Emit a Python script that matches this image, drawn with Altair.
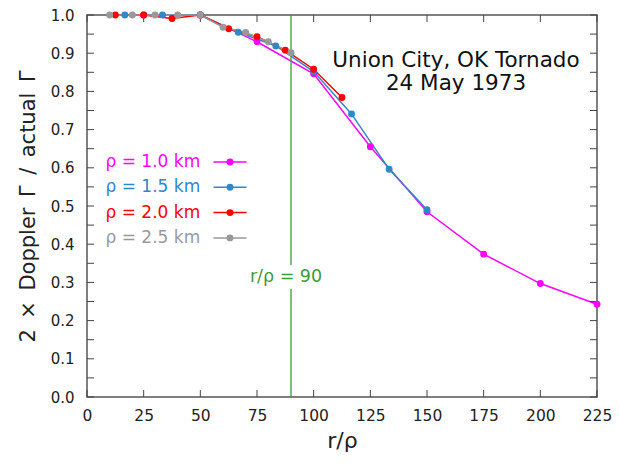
import altair as alt
import pandas as pd

# ---- data ----
labels = ["ρ = 1.0 km", "ρ = 1.5 km", "ρ = 2.0 km", "ρ = 2.5 km"]
colors = ["#ff00ff", "#2f87cc", "#ff0000", "#999999"]

x_10 = [25, 50, 75, 100, 125, 150, 175, 200, 225]
y_10 = [1.0, 1.0, 0.930, 0.846, 0.655, 0.485, 0.374, 0.297, 0.243]

x_15 = [16.7, 33.3, 50, 66.7, 83.3, 100, 116.7, 133.3, 150]
y_15 = [1.0, 1.0, 1.0, 0.955, 0.919, 0.852, 0.741, 0.596, 0.490]

x_20 = [12.5, 25, 37.5, 50, 62.5, 75, 87.5, 100, 112.5]
y_20 = [1.0, 1.0, 0.991, 1.0, 0.964, 0.943, 0.908, 0.858, 0.784]

x_25 = [10, 20, 30, 40, 50, 60, 70, 80, 90]
y_25 = [1.0, 1.0, 1.0, 1.0, 1.0, 0.968, 0.954, 0.930, 0.901]

x_ticks = [0, 25, 50, 75, 100, 125, 150, 175, 200, 225]
y_labels = [0.0, 0.1, 0.2, 0.3, 0.4, 0.5, 0.6, 0.7, 0.8, 0.9, 1.0]
y_ticks = [0.05 * i for i in range(21)]
vline_x = [90]

title_lines = ["Union City, OK Tornado", "24 May 1973"]
vline_label = "r/ρ = 90"
x_title = "r/ρ"
y_title = "2\u2002×\u2002Doppler\u2002Γ\u2002/\u2002actual\u2002Γ"

# ---- layout ----
W, H = 510, 382
FONT = "DejaVu Sans"

rows = []
for lab, xs_, ys_ in zip(labels, [x_10, x_15, x_20, x_25], [y_10, y_15, y_20, y_25]):
    for a, b in zip(xs_, ys_):
        rows.append({"series": lab, "x": a, "y": b})
df = pd.DataFrame(rows)

xs = alt.Scale(domain=[0, 225], nice=False)
ys = alt.Scale(domain=[0, 1], nice=False)
cs = alt.Scale(domain=labels, range=colors)

x_axis = alt.Axis(
    values=x_ticks, tickSize=0, domain=False, grid=False, labelPadding=11,
    labelFontSize=15.5, labelColor="#222", labelFont=FONT,
    labelOverlap=False, labelBound=False, labelFlush=False,
    title=x_title, titleFontSize=22, titleFont=FONT, titleFontWeight="normal",
    titleColor="#222", titlePadding=7)
y_axis = alt.Axis(
    values=y_labels, format=".1f", tickSize=0, domain=False, grid=False,
    labelPadding=13, labelFontSize=15, labelColor="#222", labelFont=FONT,
    labelOverlap=False, labelBound=False, labelFlush=False,
    title=y_title, titleFontSize=21,
    titleFont=FONT, titleFontWeight="normal", titleColor="#222",
    titleX=-59, titleY=H / 2, titleBaseline="middle")


def X(f):
    return alt.X(f, scale=xs, axis=x_axis, title=x_title)


def Y(f):
    return alt.Y(f, scale=ys, axis=y_axis, title=y_title)


base = alt.Chart(df)
lines = base.mark_line(strokeWidth=1.5).encode(
    x=X("x:Q"), y=Y("y:Q"),
    color=alt.Color("series:N", scale=cs, legend=None),
    detail="series:N")
points = base.transform_calculate(
    ord="indexof(" + str(labels) + ", datum.series)"
).mark_circle(size=48, opacity=1).encode(
    x=X("x:Q"), y=Y("y:Q"),
    color=alt.Color("series:N", scale=cs, legend=None),
    order=alt.Order("ord:Q"))

# inward ticks
tick_col = "#444"
xt = pd.DataFrame({"t": x_ticks})
yt = pd.DataFrame({"t": y_ticks})
xt_bot = alt.Chart(xt).mark_rule(color=tick_col, strokeWidth=1).encode(
    x=X("t:Q"), y=alt.value(H), y2=alt.value(H - 7))
xt_top = alt.Chart(xt).mark_rule(color=tick_col, strokeWidth=1).encode(
    x=X("t:Q"), y=alt.value(0), y2=alt.value(7))
yt_left = alt.Chart(yt).mark_rule(color=tick_col, strokeWidth=1).encode(
    y=Y("t:Q"), x=alt.value(0), x2=alt.value(7))
yt_right = alt.Chart(yt).mark_rule(color=tick_col, strokeWidth=1).encode(
    y=Y("t:Q"), x=alt.value(W), x2=alt.value(W - 7))

# vertical reference line
GREEN = "#3f9a3a"
vl = alt.Chart(pd.DataFrame({"v": vline_x})).mark_rule(color=GREEN, strokeWidth=1.3).encode(
    x=X("v:Q"))
gap = alt.Chart(pd.DataFrame({"v": vline_x})).mark_rect(color="white").encode(
    x=alt.value(196), x2=alt.value(210), y=alt.value(250), y2=alt.value(274))
vtext = alt.Chart(pd.DataFrame({"t": [vline_label]})).mark_text(
    color=GREEN, fontSize=17.5, font=FONT, baseline="middle", align="center").encode(
    x=alt.value(199), y=alt.value(262), text="t:N")

# title text
ttl = []
for i, line in enumerate(title_lines):
    ttl.append(alt.Chart(pd.DataFrame({"t": [line]})).mark_text(
        color="#111", fontSize=21.5, font=FONT, baseline="alphabetic", align="center").encode(
        x=alt.value(369), y=alt.value(52 + 22.6 * i), text="t:N"))

# manual legend
leg = []
for i, (lab, col) in enumerate(zip(labels, colors)):
    yy = 147 + 25.3 * i
    d = pd.DataFrame({"t": [lab]})
    leg.append(alt.Chart(d).mark_text(color=col, fontSize=17, font=FONT,
                                      align="left", baseline="middle").encode(
        x=alt.value(18.5), y=alt.value(yy), text="t:N"))
    leg.append(alt.Chart(d).mark_rule(color=col, strokeWidth=1.5).encode(
        x=alt.value(126.5), x2=alt.value(159.5), y=alt.value(yy)))
    leg.append(alt.Chart(d).mark_circle(color=col, size=48, opacity=1).encode(
        x=alt.value(143), y=alt.value(yy)))

chart = alt.layer(
    lines, vl, gap, vtext, xt_bot, xt_top, yt_left, yt_right, points, *ttl, *leg
).properties(
    width=W, height=H,
    autosize=alt.AutoSizeParams(type="none"),
    padding={"left": 87, "top": 15, "right": 22, "bottom": 66},
    background="white",
).configure_view(stroke="#555", strokeWidth=1.5)

chart.save("out.html", embed_options={"renderer": "svg", "actions": False})
